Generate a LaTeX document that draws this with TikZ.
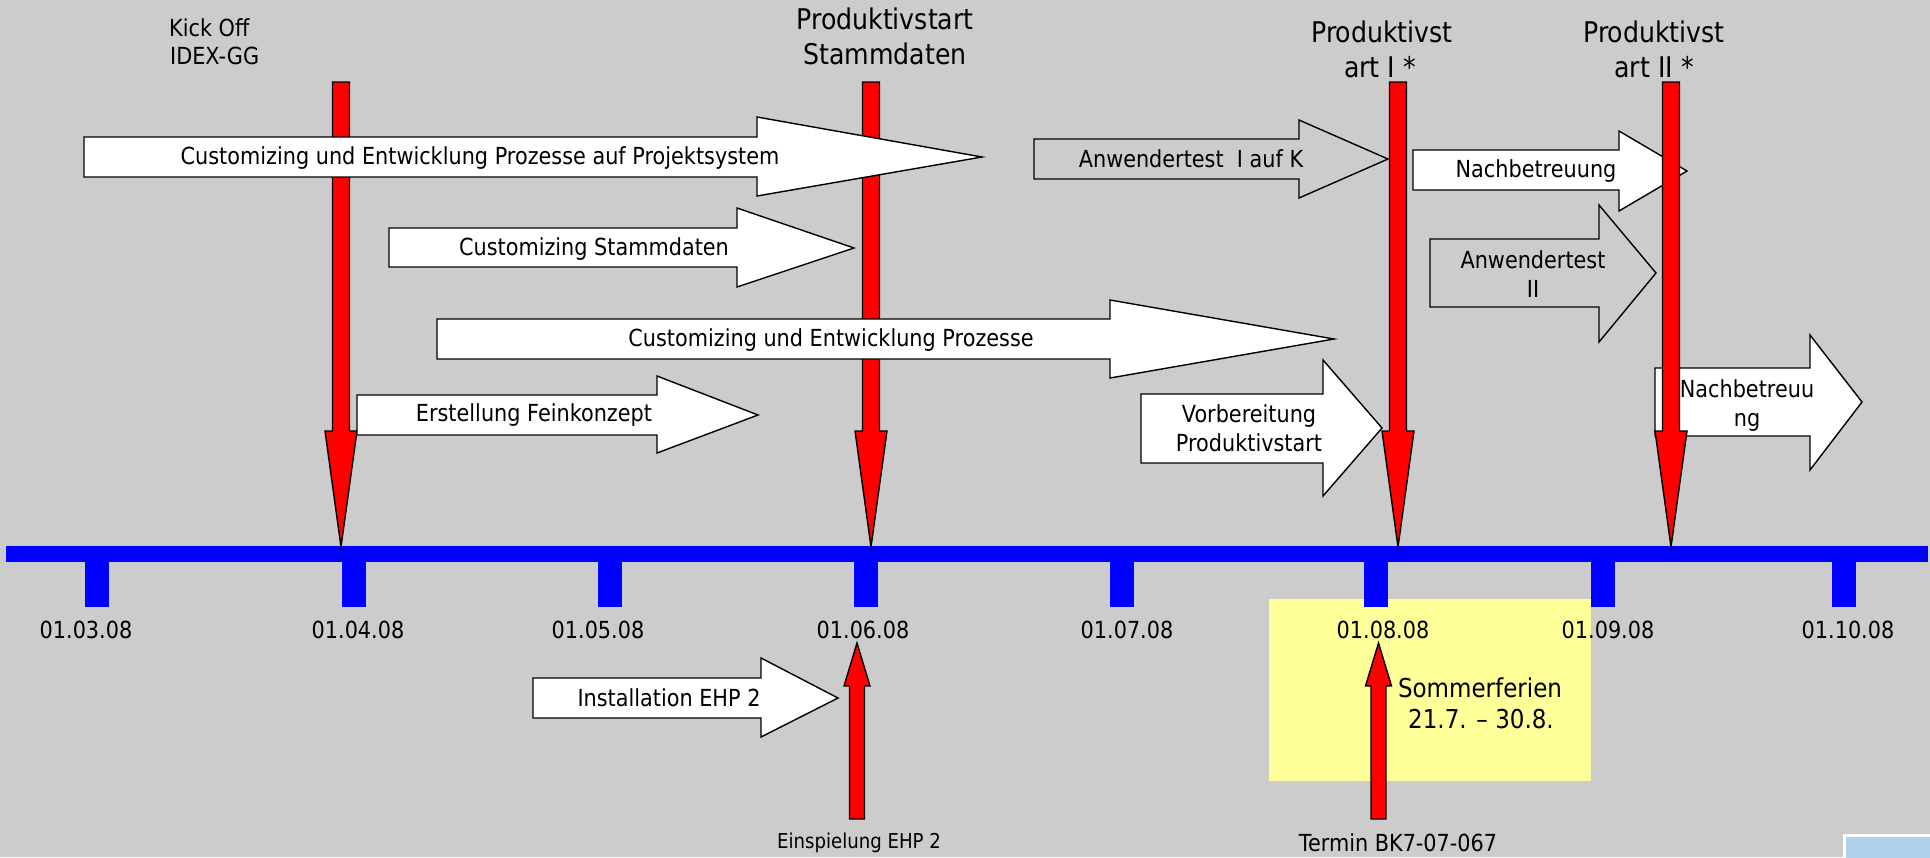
\documentclass[tikz,border=0pt]{standalone}
\usepackage{fontspec}
\setmainfont{DejaVu Sans}[FakeStretch=0.885]
\definecolor{bggrey}{RGB}{204,204,204}
\definecolor{tlblue}{RGB}{0,0,255}
\definecolor{ferien}{RGB}{255,255,153}
\definecolor{lblue}{RGB}{178,210,236}
\tikzset{
  blk/.style={draw=black, line width=1.4pt, line join=miter},
  redarr/.style={draw=black, fill=red, line width=1.4pt, line join=miter},
  tnorm/.style={inner sep=0pt, font=\fontsize{23.5}{28}\selectfont, text height=17pt, text depth=5pt},
  tbig/.style={inner sep=0pt, font=\fontsize{28.5}{34}\selectfont, text height=21pt, text depth=6pt},
  tmid/.style={inner sep=0pt, font=\fontsize{26}{31}\selectfont, text height=19pt, text depth=5.5pt},
  tsmall/.style={inner sep=0pt, font=\fontsize{20.5}{25}\selectfont, text height=15pt, text depth=4.5pt},
}
\newcommand{\blockarrow}[9]{\filldraw[blk, fill=#9] (#1,#2) -- (#4,#2) -- (#4,#5) -- (#7,#8) -- (#4,#6) -- (#4,#3) -- (#1,#3) -- cycle;}
\newcommand{\redbar}[1]{\filldraw[redarr] (#1-8.5,82) -- (#1+8.5,82) -- (#1+8.5,431) -- (#1+16,431) -- (#1,547) -- (#1-16,431) -- (#1-8.5,431) -- cycle;}
\newcommand{\redup}[1]{\filldraw[redarr] (#1-7.5,819) -- (#1+7.5,819) -- (#1+7.5,686) -- (#1+13,686) -- (#1,643) -- (#1-13,686) -- (#1-7.5,686) -- cycle;}
\begin{document}
\begin{tikzpicture}[x=1pt,y=-1pt]
\useasboundingbox (0,0) rectangle (1930,857);
\fill[bggrey] (0,0) rectangle (1930,857);
% summer holidays
\fill[ferien] (1269,599) rectangle (1591,781);
% light blue corner box
\filldraw[draw=white, line width=3pt, fill=lblue] (1844,835) rectangle (1932,860);
% timeline
\fill[tlblue] (6,546) rectangle (1928,562);
\foreach \tx in {97,354,610,866,1122,1376,1603,1844}{
  \fill[tlblue] (\tx-12,546) rectangle (\tx+12,607);
}
% date labels
\node[tnorm] (d03) at (86,632) {01.03.08};
\node[tnorm] (d04) at (358,632) {01.04.08};
\node[tnorm] (d05) at (598,632) {01.05.08};
\node[tnorm] (d06) at (863,632) {01.06.08};
\node[tnorm] (d07) at (1127,632) {01.07.08};
\node[tnorm] (d08) at (1383,632) {01.08.08};
\node[tnorm] (d09) at (1608,632) {01.09.08};
\node[tnorm] (d10) at (1848,632) {01.10.08};
% milestone bars behind block arrows
\redbar{341}
\redbar{871}
% block arrows
\blockarrow{84}{137}{177}{757}{117}{196}{982}{157}{white}
\blockarrow{389}{228}{267}{737}{208}{287}{854}{248}{white}
\blockarrow{437}{319}{359}{1110}{300}{378}{1334}{339}{white}
\blockarrow{357}{395}{435}{657}{376}{453}{758}{415}{white}
\blockarrow{1034}{139}{179}{1299}{120}{198}{1388}{159}{bggrey}
\blockarrow{1413}{150}{190}{1619}{131}{211}{1687}{171}{white}
\blockarrow{1430}{239}{307}{1599}{205}{342}{1656}{273}{bggrey}
\blockarrow{1141}{394}{463}{1323}{360}{496}{1382}{428}{white}
\blockarrow{1655}{368}{436}{1810}{335}{470}{1862}{402}{white}
\blockarrow{533}{678}{718}{761}{658}{737}{838}{698}{white}
% milestone bars in front
\redbar{1398}
\redbar{1671}
% upward arrows
\redup{857}
\redup{1378.5}
% arrow texts
\node[tnorm] (a1) at (480,158) {Customizing und Entwicklung Prozesse auf Projektsystem};
\node[tnorm] (a2) at (594,249) {Customizing Stammdaten};
\node[tnorm] (a3) at (831,340) {Customizing und Entwicklung Prozesse};
\node[tnorm] (a4) at (534,415) {Erstellung Feinkonzept};
\node[tnorm] (a5) at (1191,161) {Anwendertest\ \ I auf K};
\node[tnorm] (a6) at (1536,171) {Nachbetreuung};
\node[tnorm] (a7a) at (1533,262) {Anwendertest};
\node[tnorm] (a7b) at (1533,291) {II};
\node[tnorm] (a8a) at (1249,416) {Vorbereitung};
\node[tnorm] (a8b) at (1249,445) {Produktivstart};
\node[tnorm] (a9a) at (1747,391) {Nachbetreuu};
\node[tnorm] (a9b) at (1747,420) {ng};
\node[tnorm] (a10) at (669,700) {Installation EHP 2};
% milestone titles
\node[tnorm, anchor=west] (ko1) at (169,30) {Kick Off};
\node[tnorm, anchor=west] (ko2) at (170,58) {IDEX-GG};
\node[tbig] (ps1) at (885,22) {Produktivstart};
\node[tbig] (ps2) at (885,57) {Stammdaten};
\node[tbig] (pi1) at (1382,35) {Produktivst};
\node[tbig] (pi2) at (1380,70) {art I *};
\node[tbig] (pii1) at (1654,35) {Produktivst};
\node[tbig] (pii2) at (1654,70) {art II *};
% holidays text
\node[tmid] (sf1) at (1480,691) {Sommerferien};
\node[tmid] (sf2) at (1481,722) {21.7. – 30.8.};
% bottom texts
\node[tsmall] (ein) at (859,843) {Einspielung EHP 2};
\node[tnorm] (ter) at (1398,845) {Termin BK7-07-067};
\end{tikzpicture}
\end{document}
